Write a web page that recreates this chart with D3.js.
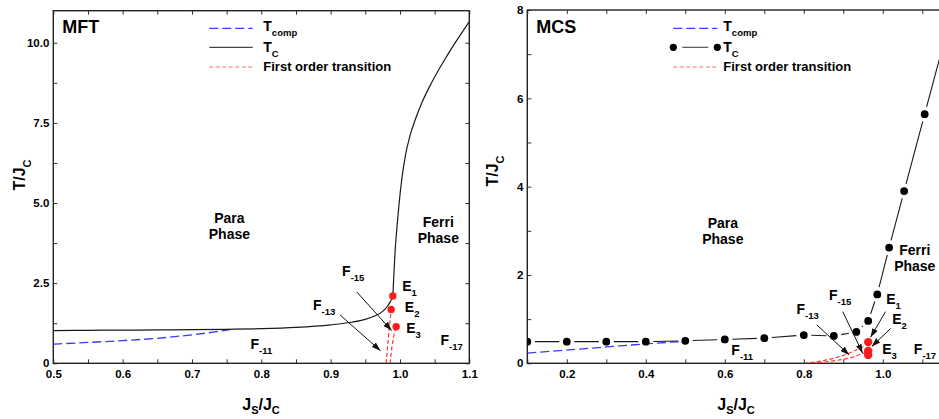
<!DOCTYPE html>
<html><head><meta charset="utf-8">
<script src="https://cdn.jsdelivr.net/npm/d3@7"></script>
<style>
body{margin:0;background:#fff}
svg{display:block;font-family:"Liberation Sans",Arial,sans-serif;font-weight:bold}
</style>
</head><body>
<svg id="c" width="939" height="419"></svg>
<script>
// ---------- MFT panel data ----------
const mftTcX = [0.5, 0.55, 0.6, 0.65, 0.7, 0.75, 0.8, 0.85, 0.9, 0.93, 0.95, 0.965, 0.975, 0.982, 0.9865, 0.9897, 0.9906, 0.993, 0.9955, 0.9988, 1.003, 1.008, 1.0145, 1.022, 1.031, 1.045, 1.068, 1.1];
const mftTcY = [1.02, 1.03, 1.035, 1.04, 1.05, 1.06, 1.08, 1.12, 1.2, 1.28, 1.37, 1.49, 1.62, 1.78, 1.94, 2.10, 2.5, 3.5, 4.2, 5.0, 5.8, 6.5, 7.1, 7.6, 8.1, 8.73, 9.6, 10.66];
const mftCompX = [0.5, 0.55, 0.6, 0.65, 0.7, 0.73, 0.755];
const mftCompY = [0.60, 0.65, 0.71, 0.78, 0.89, 0.97, 1.05];
const mftFo1X = [0.980, 0.9825, 0.985, 0.9873];
const mftFo1Y = [0.0, 0.6, 1.2, 1.68];
const mftFo2X = [0.9858, 0.988, 0.991, 0.9945];
const mftFo2Y = [0.0, 0.45, 0.85, 1.14];
const mftEX = [0.9897, 0.9873, 0.9945];
const mftEY = [2.10, 1.68, 1.14];
const mftXTicks = [0.5, 0.55, 0.6, 0.65, 0.7, 0.75, 0.8, 0.85, 0.9, 0.95, 1.0, 1.05, 1.1];
const mftXLabels = [0.5, 0.6, 0.7, 0.8, 0.9, 1.0, 1.1];
const mftYTicks = [0, 1.25, 2.5, 3.75, 5, 6.25, 7.5, 8.75, 10];
const mftYLabels = [0, 2.5, 5, 7.5, 10];
const mftArrows = [
  {x1: 0.9376, y1: 2.23, x2: 0.988, y2: 1.02},
  {x1: 0.9135, y1: 1.51, x2: 0.972, y2: 0.39}
];
const mftLabels = [
  {m: "F", s: "-15", x: 0.923, y: 2.89},
  {m: "F", s: "-13", x: 0.881, y: 1.82},
  {m: "F", s: "-11", x: 0.791, y: 0.60},
  {m: "F", s: "-17", x: 1.065, y: 0.73},
  {m: "E", s: "1", x: 1.0097, y: 2.40},
  {m: "E", s: "2", x: 1.0135, y: 1.77},
  {m: "E", s: "3", x: 1.0155, y: 1.10}
];
const mftPhases = [
  {l1: "Para", l2: "Phase", x: 0.754, y: 4.52},
  {l1: "Ferri", l2: "Phase", x: 1.0553, y: 4.40}
];

// ---------- MCS panel data ----------
const mcsTcX = [0.1, 0.2, 0.3, 0.4, 0.5, 0.6, 0.7, 0.8, 0.876, 0.933, 0.963, 0.986, 1.016, 1.054, 1.106, 1.16];
const mcsTcY = [0.49, 0.49, 0.49, 0.49, 0.51, 0.54, 0.57, 0.64, 0.62, 0.71, 0.96, 1.56, 2.62, 3.90, 5.64, 7.45];
const mcsCompX = [0.1, 0.2, 0.3, 0.4, 0.5];
const mcsCompY = [0.23, 0.30, 0.37, 0.44, 0.50];
const mcsFo1X = [0.80, 0.85, 0.90, 0.951];
const mcsFo1Y = [0.0, 0.06, 0.18, 0.38];
const mcsFo2X = [0.82, 0.87, 0.92, 0.955];
const mcsFo2Y = [0.0, 0.05, 0.13, 0.24];
const mcsEX = [0.963, 0.963, 0.963];
const mcsEY = [0.48, 0.28, 0.19];
const mcsXTicks = [0.1, 0.2, 0.3, 0.4, 0.5, 0.6, 0.7, 0.8, 0.9, 1.0, 1.1, 1.2];
const mcsXLabels = [0.2, 0.4, 0.6, 0.8, 1.0];
const mcsYTicks = [0, 1, 2, 3, 4, 5, 6, 7, 8];
const mcsYLabels = [0, 2, 4, 6, 8];
const mcsArrows = [
  {x1: 0.833, y1: 0.87, x2: 0.915, y2: 0.19},
  {x1: 0.8985, y1: 1.17, x2: 0.949, y2: 0.23},
  {x1: 1.007, y1: 1.17, x2: 0.969, y2: 0.59},
  {x1: 1.02, y1: 0.79, x2: 0.972, y2: 0.38}
];
const mcsLabels = [
  {m: "F", s: "-15", x: 0.875, y: 1.55},
  {m: "F", s: "-13", x: 0.793, y: 1.22},
  {m: "F", s: "-11", x: 0.628, y: 0.30},
  {m: "F", s: "-17", x: 1.09, y: 0.32},
  {m: "E", s: "1", x: 1.02, y: 1.46},
  {m: "E", s: "2", x: 1.035, y: 1.00},
  {m: "E", s: "3", x: 1.01, y: 0.32}
];
const mcsPhases = [
  {l1: "Para", l2: "Phase", x: 0.595, y: 3.17},
  {l1: "Ferri", l2: "Phase", x: 1.081, y: 2.56}
];

// ---------- drawing ----------
const BLUE = "#3a3af5", RED = "#ff3535", DOT = "#ff1a1a", INK = "#1a1a1a";
const svg = d3.select("#c");
const defs = svg.append("defs");
defs.append("marker").attr("id", "ah").attr("viewBox", "0 0 10 10")
  .attr("refX", 10).attr("refY", 5).attr("markerWidth", 9).attr("markerHeight", 9)
  .attr("markerUnits", "userSpaceOnUse").attr("orient", "auto")
  .append("path").attr("d", "M0,1.6 L10,5 L0,8.4 Z").attr("fill", "#111");

const zip = (xs, ys) => xs.map((x, i) => [x, ys[i]]);

function subText(g, x, y, parts, anchor, size) {
  const t = g.append("text").attr("x", x).attr("y", y).attr("text-anchor", anchor || "start")
    .attr("font-size", size).attr("fill", "#000");
  parts.forEach(p => {
    const ts = t.append("tspan").text(p.t);
    if (p.fs) ts.attr("font-size", p.fs);
    if (p.dy) ts.attr("dy", p.dy);
  });
  return t;
}

function panel(o) {
  const g = svg.append("g");
  const x = d3.scaleLinear().domain(o.xd).range(o.xr);
  const y = d3.scaleLinear().domain(o.yd).range(o.yr);
  const clipId = "clip" + o.name;
  defs.append("clipPath").attr("id", clipId).append("rect")
    .attr("x", o.xr[0]).attr("y", o.yr[1]).attr("width", o.xr[1] - o.xr[0]).attr("height", o.yr[0] - o.yr[1]);

  const fmtX = v => o.xLabels.some(l => Math.abs(l - v) < 1e-9) ? d3.format(".1f")(v) : "";
  const fmtY = v => o.yLabels.some(l => Math.abs(l - v) < 1e-9) ? o.yFmt(v) : "";
  const ax = [
    g.append("g").attr("transform", `translate(0,${o.yr[0]})`).call(d3.axisBottom(x).tickValues(o.xTicks).tickFormat(fmtX).tickSize(-4).tickPadding(7)),
    g.append("g").attr("transform", `translate(0,${o.yr[1]})`).call(d3.axisTop(x).tickValues(o.xTicks).tickFormat("").tickSize(-4)),
    g.append("g").attr("transform", `translate(${o.xr[0]},0)`).call(d3.axisLeft(y).tickValues(o.yTicks).tickFormat(fmtY).tickSize(-4).tickPadding(4)),
    g.append("g").attr("transform", `translate(${o.xr[1]},0)`).call(d3.axisRight(y).tickValues(o.yTicks).tickFormat("").tickSize(-4))
  ];
  ax.forEach(a => {
    a.select(".domain").remove();
    a.selectAll(".tick line").attr("stroke", "#333").attr("stroke-width", 1);
    a.selectAll("text").attr("font-family", "Liberation Sans, Arial, sans-serif").attr("font-weight", "bold").attr("font-size", 11.5).attr("fill", "#000");
  });
  g.append("rect").attr("x", o.xr[0]).attr("y", o.yr[1]).attr("width", o.xr[1] - o.xr[0]).attr("height", o.yr[0] - o.yr[1])
    .attr("fill", "none").attr("stroke", "#222").attr("stroke-width", 1.4);

  const plot = g.append("g").attr("clip-path", `url(#${clipId})`);
  const line = d3.line().x(d => x(d[0])).y(d => y(d[1])).curve(d3.curveMonotoneX);
  const lineL = d3.line().x(d => x(d[0])).y(d => y(d[1]));

  plot.append("path").datum(zip(o.compX, o.compY)).attr("d", line).attr("fill", "none")
    .attr("stroke", BLUE).attr("stroke-width", 1.3).attr("stroke-dasharray", "9,4");
  [[o.fo1X, o.fo1Y], [o.fo2X, o.fo2Y]].forEach(([a, b]) => {
    plot.append("path").datum(zip(a, b)).attr("d", o.name === "mcs" ? line : lineL).attr("fill", "none")
      .attr("stroke", RED).attr("stroke-width", 1.2).attr("stroke-dasharray", "4,2.5");
  });
  const tc = zip(o.tcX, o.tcY);
  if (o.markers) {
    const gap = 7.5;
    for (let i = 0; i < tc.length - 1; i++) {
      const x1 = x(tc[i][0]), y1 = y(tc[i][1]), x2 = x(tc[i + 1][0]), y2 = y(tc[i + 1][1]);
      const L = Math.hypot(x2 - x1, y2 - y1);
      if (L <= 2 * gap) continue;
      const ux = (x2 - x1) / L, uy = (y2 - y1) / L;
      plot.append("line").attr("x1", x1 + ux * gap).attr("y1", y1 + uy * gap)
        .attr("x2", x2 - ux * gap).attr("y2", y2 - uy * gap).attr("stroke", INK).attr("stroke-width", 1.1);
    }
    plot.selectAll(".mk").data(tc).enter().append("circle").attr("cx", d => x(d[0])).attr("cy", d => y(d[1]))
      .attr("r", 3.9).attr("fill", "#000");
  } else {
    plot.append("path").datum(tc).attr("d", line).attr("fill", "none").attr("stroke", INK).attr("stroke-width", 1.2);
  }
  plot.selectAll(".e").data(zip(o.eX, o.eY)).enter().append("circle")
    .attr("cx", d => x(d[0])).attr("cy", d => y(d[1])).attr("r", o.eR).attr("fill", DOT);
  o.arrows.forEach(a => {
    g.append("line").attr("x1", x(a.x1)).attr("y1", y(a.y1)).attr("x2", x(a.x2)).attr("y2", y(a.y2))
      .attr("stroke", "#111").attr("stroke-width", 1).attr("marker-end", "url(#ah)");
  });
  o.labels.forEach(l => {
    subText(g, x(l.x) - 4.5, y(l.y) + 5, [{t: l.m}, {t: l.s, fs: 9.5, dy: 5}], "start", 14);
  });
  o.phases.forEach(p => {
    g.append("text").attr("x", x(p.x)).attr("y", y(p.y) + 5).attr("text-anchor", "middle").attr("font-size", 14).text(p.l1);
    g.append("text").attr("x", x(p.x)).attr("y", y(p.y) + 21).attr("text-anchor", "middle").attr("font-size", 14).text(p.l2);
  });
  g.append("text").attr("x", o.xr[0] + 9).attr("y", 32.5).attr("font-size", 18).text(o.title);
  subText(g, o.xTitleX, 410, [{t: "J"}, {t: "S", fs: 11, dy: 4}, {t: "/", dy: -4}, {t: "J"}, {t: "C", fs: 11, dy: 4}], "middle", 16);
  subText(g.append("g").attr("transform", `translate(${o.yTitleX},${o.yTitleY}) rotate(-90)`), 0, 0,
    [{t: "T/J"}, {t: "C", fs: 11, dy: 6}], "middle", 16);

  const lg = g.append("g");
  const lx0 = o.legX, lx1 = o.legX + o.legW, tx = o.legTX;
  lg.append("line").attr("x1", lx0).attr("x2", lx1).attr("y1", 28.3).attr("y2", 28.3)
    .attr("stroke", BLUE).attr("stroke-width", 1.2).attr("stroke-dasharray", "9,4");
  if (o.markers) {
    lg.append("line").attr("x1", lx0 + 9).attr("x2", lx1 - 9).attr("y1", 47.3).attr("y2", 47.3).attr("stroke", "#444").attr("stroke-width", 1.1);
    [lx0, lx1].forEach(cx => lg.append("circle").attr("cx", cx).attr("cy", 47.3).attr("r", 3.6).attr("fill", "#000"));
  } else {
    lg.append("line").attr("x1", lx0).attr("x2", lx1).attr("y1", 47.3).attr("y2", 47.3).attr("stroke", "#444").attr("stroke-width", 1.3);
  }
  lg.append("line").attr("x1", lx0).attr("x2", lx1).attr("y1", 67).attr("y2", 67)
    .attr("stroke", "#ff7070").attr("stroke-width", 1.2).attr("stroke-dasharray", "4,2.5");
  subText(lg, tx, 30.5, [{t: "T"}, {t: "comp", fs: 9.5, dy: 5}], "start", 14);
  subText(lg, tx, 51.5, [{t: "T"}, {t: "C", fs: 9.5, dy: 5}], "start", 14);
  subText(lg, tx, 71, [{t: "First order transition"}], "start", 13);
}

panel({
  name: "mft", title: "MFT",
  xd: [0.5, 1.1], xr: [53.3, 469.3], yd: [0, 11], yr: [363.3, 10.7],
  xTicks: mftXTicks, xLabels: mftXLabels, yTicks: mftYTicks, yLabels: mftYLabels,
  yFmt: v => v === 0 ? "0" : d3.format(".1f")(v),
  tcX: mftTcX, tcY: mftTcY, compX: mftCompX, compY: mftCompY,
  fo1X: mftFo1X, fo1Y: mftFo1Y, fo2X: mftFo2X, fo2Y: mftFo2Y,
  eX: mftEX, eY: mftEY, eR: 3.7, markers: false,
  arrows: mftArrows, labels: mftLabels, phases: mftPhases,
  xTitleX: 261, yTitleX: 25, yTitleY: 175,
  legX: 209.3, legW: 43.4, legTX: 263.3
});
panel({
  name: "mcs", title: "MCS",
  xd: [0.1, 1.2], xr: [527.3, 961.8], yd: [0, 8], yr: [363.3, 10],
  xTicks: mcsXTicks, xLabels: mcsXLabels, yTicks: mcsYTicks, yLabels: mcsYLabels,
  yFmt: v => d3.format("d")(v),
  tcX: mcsTcX, tcY: mcsTcY, compX: mcsCompX, compY: mcsCompY,
  fo1X: mcsFo1X, fo1Y: mcsFo1Y, fo2X: mcsFo2X, fo2Y: mcsFo2Y,
  eX: mcsEX, eY: mcsEY, eR: 4.2, markers: true,
  arrows: mcsArrows, labels: mcsLabels, phases: mcsPhases,
  xTitleX: 736, yTitleX: 498, yTitleY: 171,
  legX: 673.3, legW: 44, legTX: 723.3
});
</script>
</body></html>
